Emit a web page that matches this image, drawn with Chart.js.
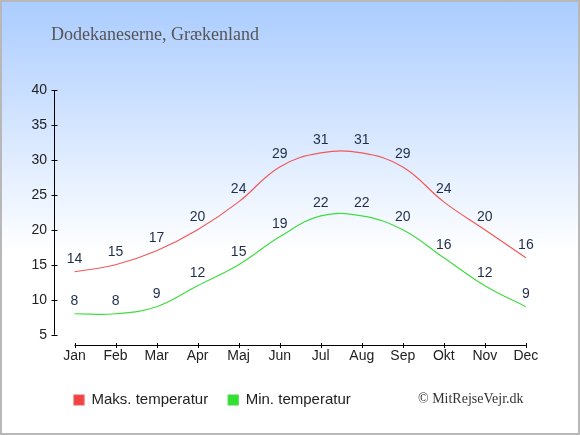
<!DOCTYPE html>
<html>
<head>
<meta charset="utf-8">
<script src="https://cdn.jsdelivr.net/npm/chart.js@4.4.1/dist/chart.umd.min.js"></script>
<style>
  html, body { margin: 0; padding: 0; }
  #wrap {
    position: relative;
    width: 580px;
    height: 435px;
    background: linear-gradient(to bottom, #aaccff 0%, #ffffff 58%);
  }
  #frame {
    position: absolute;
    left: 0; top: 0; right: 0; bottom: 0;
    border: 2px solid #b8b8b8;
    pointer-events: none;
  }
  #title {
    position: absolute;
    left: 51px;
    top: 25px;
    font: 18px/18px "Liberation Serif", serif;
    color: #555;
    white-space: nowrap;
  }
  #credit {
    position: absolute;
    left: 418px;
    top: 392px;
    font: 14px/14px "Liberation Serif", serif;
    color: #333;
    white-space: nowrap;
  }
</style>
</head>
<body>
<div id="wrap">
  <canvas id="chart" width="580" height="435"></canvas>
  <div id="title">Dodekaneserne, Grækenland</div>
  <div id="credit">© MitRejseVejr.dk</div>
  <div id="frame"></div>
</div>
<script>
const months = ['Jan', 'Feb', 'Mar', 'Apr', 'Maj', 'Jun', 'Jul', 'Aug', 'Sep', 'Okt', 'Nov', 'Dec'];
const maxTemps = [14, 15, 17, 20, 24, 29, 31, 31, 29, 24, 20, 16];
const minTemps = [8, 8, 9, 12, 15, 19, 22, 22, 20, 16, 12, 9];
const yMin = 5;
const yMax = 40;
const yStep = 5;

Chart.defaults.font.family = '"Liberation Sans", Arial, sans-serif';

// axis lines drawn apart from each other, like the original
const axisLines = {
  id: 'axisLines',
  beforeDatasetsDraw(chart) {
    const { ctx, chartArea, scales: { x, y } } = chart;
    ctx.save();
    ctx.strokeStyle = '#000';
    ctx.lineWidth = 1;
    ctx.beginPath();
    const ax = Math.round(chartArea.left) + 0.5;
    ctx.moveTo(ax, y.getPixelForValue(y.max));
    ctx.lineTo(ax, y.getPixelForValue(y.min));
    y.ticks.forEach((t) => {
      const py = Math.round(y.getPixelForValue(t.value)) + 0.5;
      ctx.moveTo(ax - 3, py);
      ctx.lineTo(ax + 3, py);
    });
    const ay = Math.round(chartArea.bottom + 10) + 0.5;
    ctx.moveTo(x.getPixelForValue(0), ay);
    ctx.lineTo(x.getPixelForValue(months.length - 1), ay);
    months.forEach((m, i) => {
      const px = Math.round(x.getPixelForValue(i)) + 0.5;
      ctx.moveTo(px, ay - 2.5);
      ctx.lineTo(px, ay + 2.5);
    });
    ctx.stroke();
    ctx.restore();
  },
};

// value above every point
const valueLabels = {
  id: 'valueLabels',
  afterDatasetsDraw(chart) {
    const { ctx } = chart;
    ctx.save();
    ctx.font = '14px "Liberation Sans", Arial, sans-serif';
    ctx.fillStyle = '#1f2d4a';
    ctx.textAlign = 'center';
    ctx.textBaseline = 'middle';
    chart.data.datasets.forEach((ds, i) => {
      chart.getDatasetMeta(i).data.forEach((pt, j) => {
        ctx.fillText(ds.data[j], pt.x, pt.y - 13);
      });
    });
    ctx.restore();
  },
};

new Chart(document.getElementById('chart'), {
  type: 'line',
  data: {
    labels: months,
    datasets: [
      {
        label: 'Maks. temperatur',
        data: maxTemps,
        borderColor: '#f05a5a',
        backgroundColor: '#ee4444',
        borderWidth: 1.2,
        pointRadius: 0,
        tension: 0.4,
        fill: false,
      },
      {
        label: 'Min. temperatur',
        data: minTemps,
        borderColor: '#40dd40',
        backgroundColor: '#33dd33',
        borderWidth: 1.2,
        pointRadius: 0,
        tension: 0.4,
        fill: false,
      },
    ],
  },
  options: {
    responsive: false,
    animation: false,
    layout: { padding: { left: 30, right: 33.6, top: 90, bottom: 17.5 } },
    plugins: {
      title: { display: false },
      legend: {
        position: 'bottom',
        align: 'start',
        fullSize: false,
        labels: {
          boxWidth: 10,
          boxHeight: 10,
          padding: 20,
          color: '#222',
          font: { size: 15 },
        },
      },
      tooltip: { enabled: false },
    },
    scales: {
      x: {
        offset: true,
        grid: { display: false, drawTicks: false },
        border: { display: false },
        ticks: { padding: 13, color: '#222', font: { size: 14 } },
        afterFit(scale) { scale.height -= 5; },
      },
      y: {
        min: yMin,
        max: yMax,
        ticks: { stepSize: yStep, padding: 7, color: '#222', font: { size: 14 } },
        grid: { display: false, drawTicks: false },
        border: { display: false },
        afterFit(scale) { scale.width = 24; },
      },
    },
  },
  plugins: [axisLines, valueLabels],
});
</script>
</body>
</html>
